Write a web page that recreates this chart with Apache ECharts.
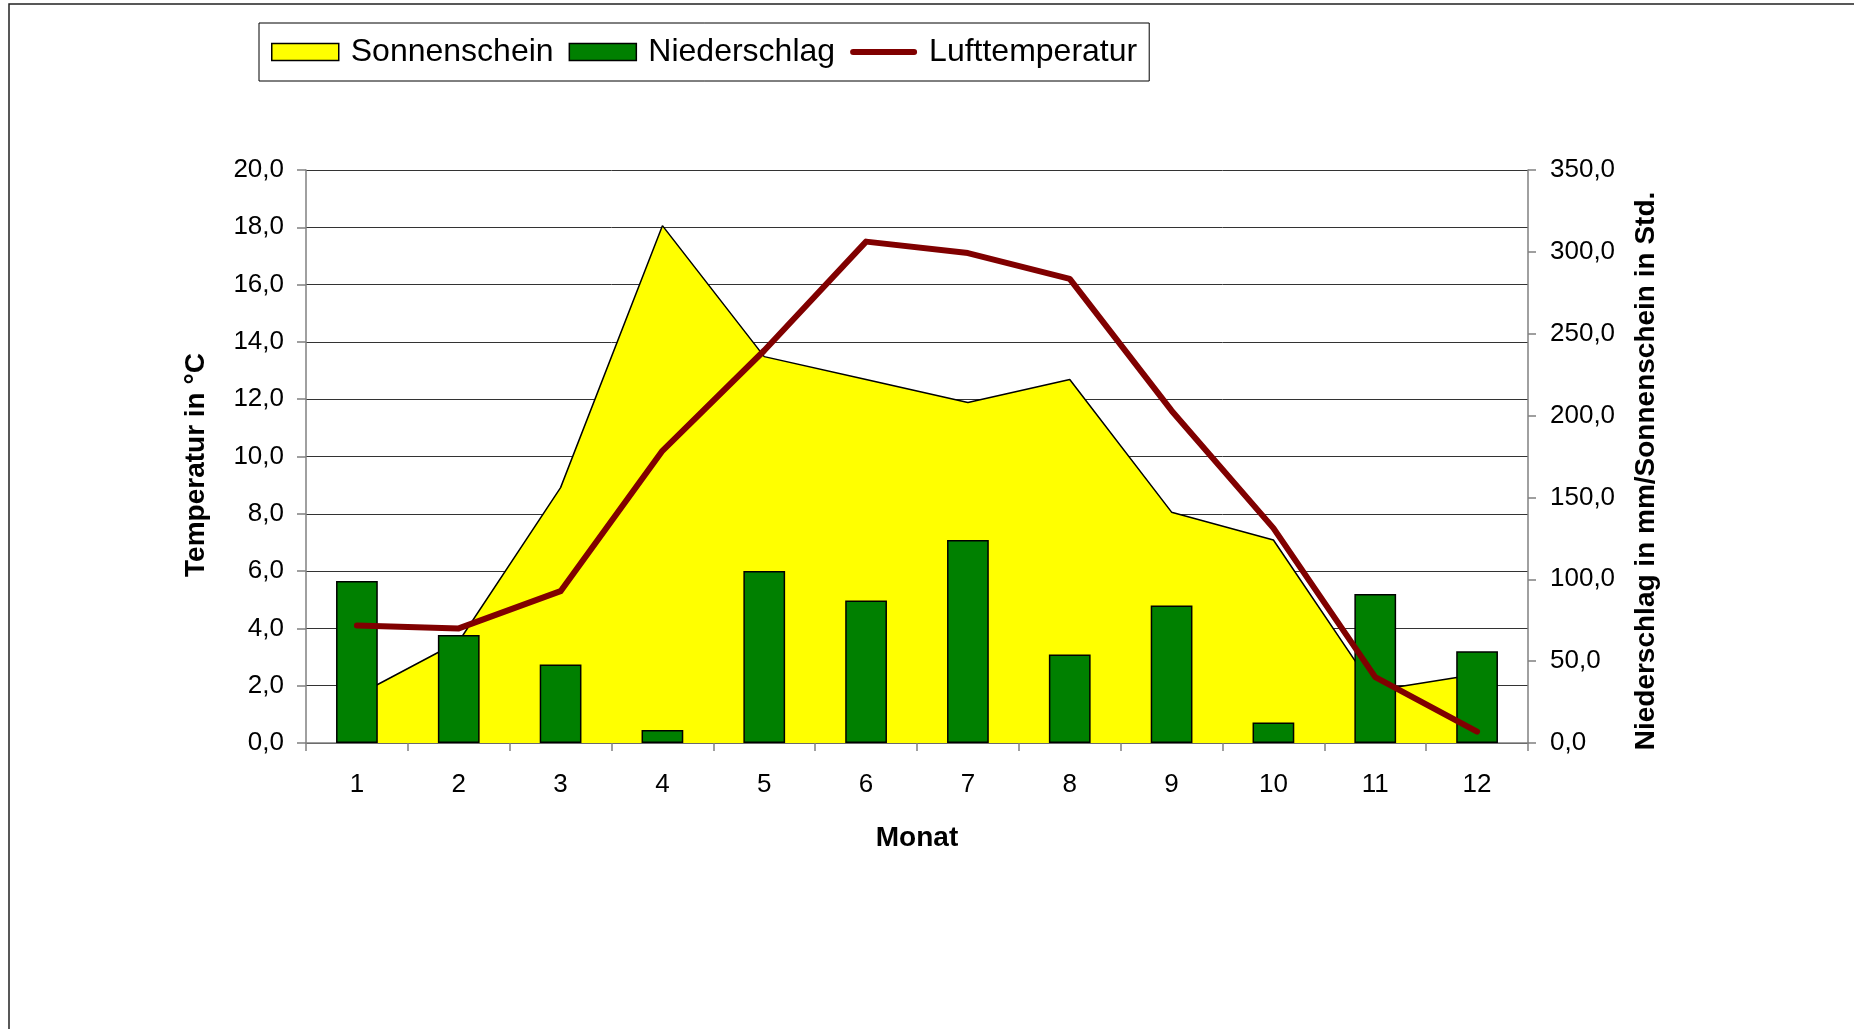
<!DOCTYPE html>
<html>
<head>
<meta charset="utf-8">
<title>Klima</title>
<script src="https://cdn.jsdelivr.net/npm/echarts@6/dist/echarts.min.js"></script>
<style>
  html, body { margin: 0; padding: 0; background: #fff; }
  #main { width: 1854px; height: 1029px; }
</style>
</head>
<body>
<div id="main"></div>
<script>
// data
var months = ['1', '2', '3', '4', '5', '6', '7', '8', '9', '10', '11', '12'];
var sunshine = [29, 62, 156, 316, 236, 222, 208, 222, 141, 124, 32, 42];     // Std.
var precipitation = [99, 66, 48, 8, 105, 87, 124, 54, 84, 12.5, 91, 56];     // mm
var temperature = [4.1, 4.0, 5.3, 10.2, 13.7, 17.5, 17.1, 16.2, 11.6, 7.5, 2.3, 0.4]; // °C

var FONT = 'Liberation Sans, Arial, sans-serif';
var fmt = function (v) { return v.toFixed(1).replace('.', ','); };

var chartDom = document.getElementById('main');
var myChart = echarts.init(chartDom);

var option = {
  backgroundColor: '#fff',
  animation: false,
  textStyle: { fontFamily: FONT, color: '#000' },
  graphic: [
    {
      type: 'rect',
      shape: { x: 9, y: 4, width: 2000, height: 2000 },
      style: { fill: 'none', stroke: '#222', lineWidth: 1.5 },
      silent: true
    },
    // axis titles
    {
      type: 'text',
      x: 196,
      y: 465,
      rotation: Math.PI / 2,
      style: {
        text: 'Temperatur in °C',
        fontSize: 28,
        fontWeight: 'bold',
        fontFamily: FONT,
        fill: '#000',
        align: 'center',
        verticalAlign: 'middle'
      }
    },
    {
      type: 'text',
      x: 1646,
      y: 471,
      rotation: Math.PI / 2,
      style: {
        text: 'Niederschlag in mm/Sonnenschein in Std.',
        fontSize: 28,
        fontWeight: 'bold',
        fontFamily: FONT,
        fill: '#000',
        align: 'center',
        verticalAlign: 'middle'
      }
    }
  ],
  legend: {
    left: 259,
    top: 23,
    orient: 'horizontal',
    padding: [13, 12, 13, 12],
    borderColor: '#000',
    borderWidth: 1,
    itemWidth: 67,
    itemHeight: 17,
    itemGap: 15,
    textStyle: { fontSize: 32, fontFamily: FONT, color: '#000', padding: [0, 0, 0, 7] },
    data: [
      { name: 'Sonnenschein', icon: 'rect', itemStyle: { color: '#FFFF00', borderColor: '#000', borderWidth: 1.5 } },
      { name: 'Niederschlag', icon: 'rect', itemStyle: { color: '#008000', borderColor: '#000', borderWidth: 1.5 } },
      {
        name: 'Lufttemperatur',
        icon: 'path://M3,0 L64,0 A3,3 0 0 1 64,6 L3,6 A3,3 0 0 1 3,0 Z',
        itemStyle: { color: '#800000', borderWidth: 0 }
      }
    ]
  },
  grid: {
    left: 306,
    right: 326,
    top: 170,
    bottom: 286,
    containLabel: false
  },
  xAxis: {
    type: 'category',
    data: months,
    boundaryGap: true,
    name: 'Monat',
    nameLocation: 'middle',
    nameGap: 81,
    nameTextStyle: { fontSize: 28, fontWeight: 'bold', fontFamily: FONT, color: '#000' },
    axisLine: { lineStyle: { color: '#808080', width: 1.5 } },
    axisTick: { show: true, length: 8, alignWithLabel: false, lineStyle: { color: '#808080', width: 1.5 } },
    axisLabel: { fontSize: 26, color: '#000', margin: 29, interval: 0 }
  },
  yAxis: [
    {
      type: 'value',
      min: 0,
      max: 20,
      interval: 2,
      axisLine: { show: true, lineStyle: { color: '#808080', width: 1.5 } },
      axisTick: { show: true, length: 9, lineStyle: { color: '#808080', width: 1.5 } },
      axisLabel: { fontSize: 26, color: '#000', margin: 22, formatter: fmt },
      splitLine: { show: true, lineStyle: { color: '#333', width: 1 } }
    },
    {
      type: 'value',
      position: 'right',
      min: 0,
      max: 350,
      interval: 50,
      axisLine: { show: true, lineStyle: { color: '#808080', width: 1.5 } },
      axisTick: { show: true, length: 8, lineStyle: { color: '#808080', width: 1.5 } },
      axisLabel: { fontSize: 26, color: '#000', margin: 22, formatter: fmt },
      splitLine: { show: false }
    }
  ],
  series: [
    {
      name: 'Sonnenschein',
      type: 'line',
      yAxisIndex: 1,
      data: sunshine,
      symbol: 'none',
      z: 1,
      lineStyle: { color: '#000', width: 1.5 },
      itemStyle: { color: '#FFFF00' },
      areaStyle: { color: '#FFFF00', opacity: 1 }
    },
    {
      name: 'Niederschlag',
      type: 'bar',
      yAxisIndex: 1,
      data: precipitation,
      barWidth: '41%',
      z: 2,
      itemStyle: { color: '#008000', borderColor: '#000', borderWidth: 1.5 }
    },
    {
      name: 'Lufttemperatur',
      type: 'line',
      yAxisIndex: 0,
      data: temperature,
      symbol: 'none',
      z: 3,
      itemStyle: { color: '#800000' },
      lineStyle: { color: '#800000', width: 6, cap: 'round', join: 'round' }
    }
  ]
};

myChart.setOption(option);

window.addEventListener('resize', () => myChart.resize());
</script>
</body>
</html>
